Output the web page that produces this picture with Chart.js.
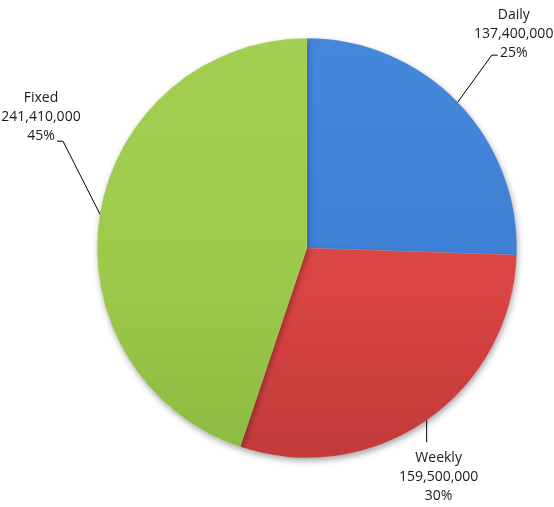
<!DOCTYPE html>
<html>
<head>
<meta charset="utf-8">
<script src="https://cdn.jsdelivr.net/npm/chart.js@4"></script>
<style>
  html, body { margin: 0; padding: 0; background: #ffffff; }
  #wrap { width: 554px; height: 507px; position: relative; }
</style>
</head>
<body>
<div id="wrap"><canvas id="pieChart" width="554" height="507"></canvas></div>
<script>
// Contract types and their amounts
const categories = ['Daily', 'Weekly', 'Fixed'];
const amounts = [137400000, 159500000, 241410000];
const percentLabels = ['25%', '30%', '45%'];

// Slice colours: light top, base, dark bottom
const sliceColors = [
    ['#4587da', '#3d7fd4', '#3570c2'],
    ['#de4a4a', '#d94444', '#c23a3a'],
    ['#a2cf50', '#9cc94a', '#8cb940']
];

// Leader line layout per label: elbow offset from slice edge, tick length, text offset
const leaderLayout = [
    { elbow: [34, -47], tick: 6, text: [22, -40], align: 'center' },
    { elbow: [0, 22], tick: 0, text: [12, 16], align: 'center' },
    { elbow: [-37, -73], tick: -6, text: [-22, -43], align: 'center' }
];

function formatAmount(v) {
    return v.toLocaleString('en-US');
}

// Gentle vertical lighting across the whole pie
function sliceFill(context) {
    const chart = context.chart;
    const area = chart.chartArea;
    if (!area) return sliceColors[context.dataIndex][1];
    const c = sliceColors[context.dataIndex];
    const g = chart.ctx.createLinearGradient(0, area.top, 0, area.bottom);
    g.addColorStop(0, c[0]);
    g.addColorStop(0.6, c[1]);
    g.addColorStop(1, c[2]);
    return g;
}

// Soft shadow under the pie
const shadowPlugin = {
    id: 'pieShadow',
    beforeDatasetsDraw(chart) {
        const ctx = chart.ctx;
        ctx.save();
        ctx.shadowColor = 'rgba(0,0,0,0.35)';
        ctx.shadowBlur = 6;
        ctx.shadowOffsetX = 1;
        ctx.shadowOffsetY = 3;
    },
    afterDatasetsDraw(chart) {
        chart.ctx.restore();
    }
};

// Outer labels with leader lines
const leaderLabels = {
    id: 'leaderLabels',
    afterDraw(chart) {
        const ctx = chart.ctx;
        const meta = chart.getDatasetMeta(0);
        ctx.save();
        ctx.font = '14px "Open Sans", "Liberation Sans", sans-serif';
        ctx.fillStyle = '#1a1a1a';
        ctx.strokeStyle = '#000000';
        ctx.lineWidth = 1;
        meta.data.forEach((arc, i) => {
            const p = arc.getProps(['x', 'y', 'startAngle', 'endAngle', 'outerRadius'], true);
            const mid = (p.startAngle + p.endAngle) / 2;
            const ax = p.x + Math.cos(mid) * p.outerRadius;
            const ay = p.y + Math.sin(mid) * p.outerRadius;
            const lay = leaderLayout[i];
            const ex = ax + lay.elbow[0];
            const ey = ay + lay.elbow[1];
            ctx.beginPath();
            ctx.moveTo(ax, ay);
            ctx.lineTo(ex, ey);
            if (lay.tick) ctx.lineTo(ex + lay.tick, ey);
            ctx.stroke();

            const tx = ex + lay.text[0];
            const ty = ey + lay.text[1];
            const lines = [categories[i], formatAmount(amounts[i]), percentLabels[i]];
            ctx.textAlign = lay.align;
            ctx.textBaseline = 'middle';
            lines.forEach((t, k) => ctx.fillText(t, tx, ty + k * 19));
        });
        ctx.restore();
    }
};

new Chart(document.getElementById('pieChart'), {
    type: 'pie',
    data: {
        labels: categories,
        datasets: [{
            data: amounts,
            backgroundColor: sliceFill,
            borderColor: 'rgba(255,255,255,0.15)',
            borderWidth: 0.5
        }]
    },
    options: {
        responsive: false,
        animation: false,
        layout: { padding: { left: 97, right: 37, top: 38, bottom: 49 } },
        plugins: {
            legend: { display: false },
            tooltip: { enabled: false }
        }
    },
    plugins: [shadowPlugin, leaderLabels]
});
</script>
</body>
</html>
